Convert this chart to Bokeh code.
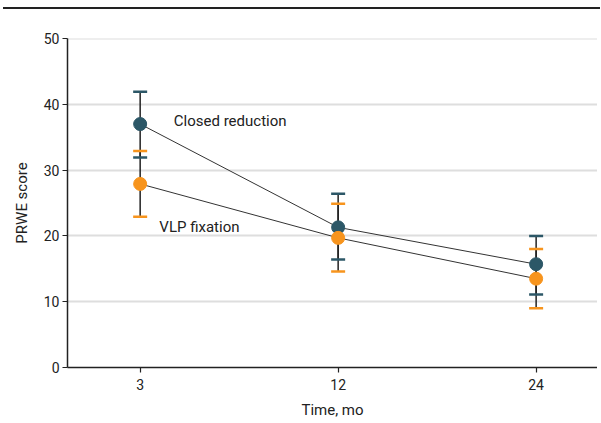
from bokeh.plotting import figure
from bokeh.models import ColumnDataSource, FixedTicker, Range1d, Label, Div
from bokeh.layouts import column
from bokeh.embed import file_html
from bokeh.resources import INLINE

# Data
time_labels = ["3", "12", "24"]
time_pos = [0, 1, 2]
y_ticks = [0, 10, 20, 30, 40, 50]
closed_mean = [37.0, 21.3, 15.7]
closed_upper = [41.9, 26.4, 20.0]
closed_lower = [31.9, 16.4, 11.1]
vlp_mean = [27.9, 19.7, 13.5]
vlp_upper = [32.9, 24.9, 18.0]
vlp_lower = [22.9, 14.6, 9.0]

CLOSED = "#2c5767"
ORANGE = "#f7941d"
FONT = "Roboto"

p = figure(width=597, height=413, output_backend="svg", toolbar_location=None,
           x_range=Range1d(-0.367, 2.31), y_range=Range1d(0, 50),
           min_border_left=67, min_border_right=0, min_border_top=29, min_border_bottom=55,
           margin=(0, 0, 0, 0))
p.outline_line_color = None
p.background_fill_color = "white"
p.xgrid.grid_line_color = None
p.ygrid.grid_line_color = None

# horizontal gridlines drawn as glyphs
p.hspan(y=y_ticks[1:], line_color="#dedede", line_width=2)

p.yaxis.ticker = FixedTicker(ticks=y_ticks)
p.xaxis.ticker = FixedTicker(ticks=time_pos)
p.xaxis.major_label_overrides = {i: t for i, t in zip(time_pos, time_labels)}
for ax in (p.xaxis, p.yaxis):
    ax.axis_line_color = "#222222"
    ax.axis_line_width = 1.5
    ax.major_tick_line_color = "#222222"
    ax.major_tick_line_width = 1.2
    ax.major_tick_in = 0
    ax.major_tick_out = 5
    ax.minor_tick_line_color = None
    ax.major_label_text_font = FONT
    ax.major_label_text_font_size = "14px"
    ax.major_label_text_color = "#222222"
    ax.axis_label_text_font = FONT
    ax.axis_label_text_font_size = "15px"
    ax.axis_label_text_font_style = "normal"
    ax.axis_label_text_color = "#222222"
p.xaxis.axis_label = "Time, mo"
p.yaxis.axis_label = "PRWE score"
p.xaxis.major_label_standoff = 6
p.xaxis.axis_label_standoff = 8
p.yaxis.major_label_standoff = 3
p.yaxis.axis_label_standoff = 10

src_c = ColumnDataSource(dict(x=time_pos, y=closed_mean, up=closed_upper, lo=closed_lower))
src_v = ColumnDataSource(dict(x=time_pos, y=vlp_mean, up=vlp_upper, lo=vlp_lower))

# error bar stems
for src in (src_v, src_c):
    p.segment(x0="x", y0="lo", x1="x", y1="up", source=src, line_color="#222222", line_width=1.5)
# caps
for src, col in ((src_v, ORANGE), (src_c, CLOSED)):
    for key in ("up", "lo"):
        p.scatter("x", key, source=src, marker="dash", size=14, line_color=col, line_width=2.5)

p.line("x", "y", source=src_c, line_color="#333333", line_width=1)
p.line("x", "y", source=src_v, line_color="#333333", line_width=1)
p.scatter("x", "y", source=src_c, size=13, fill_color=CLOSED, line_color=CLOSED)
p.scatter("x", "y", source=src_v, size=13, fill_color=ORANGE, line_color=ORANGE)

p.add_layout(Label(x=0.17, y=37.5, text="Closed reduction", text_font=FONT,
                   text_font_size="15px", text_color="#222222", text_baseline="middle"))
p.add_layout(Label(x=0.097, y=21.3, text="VLP fixation", text_font=FONT,
                   text_font_size="15px", text_color="#222222", text_baseline="middle"))

# top rule across the page
rule = Div(text="", width=597, height=2, margin=(7, 0, 0, 3),
           styles={"background-color": "#222222", "overflow": "hidden"})

layout = column(rule, p, spacing=0)
open("out.html", "w").write(file_html(layout, INLINE))
